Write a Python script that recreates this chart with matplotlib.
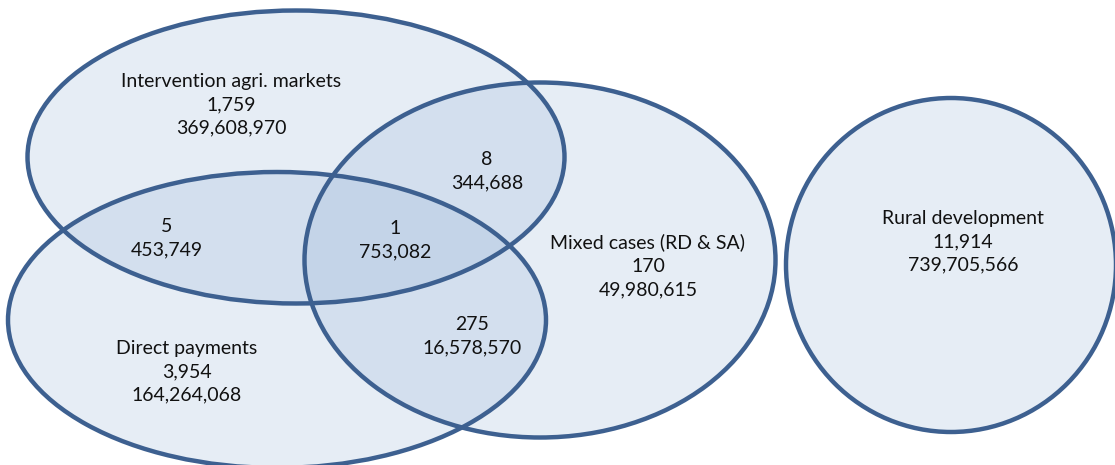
import matplotlib.pyplot as plt
from matplotlib.patches import Ellipse

# Venn regions: label, number of cases, amount
region_labels = ["Intervention agri. markets", "", "", "", "Mixed cases (RD & SA)",
                 "", "Direct payments", "Rural development"]
region_counts = [1759, 8, 5, 1, 170, 275, 3954, 11914]
region_amounts = [369608970, 344688, 453749, 753082, 49980615, 16578570,
                  164264068, 739705566]

# layout (pixel coords of the 1115x465 canvas)
text_pos = [(231, 105), (487, 171), (167, 238), (395, 240), (648, 266),
            (472, 336), (187, 372), (963, 242)]

# ellipses: centre x, centre y, width, height
ellipses = [(296, 157, 537, 293),   # intervention
            (277, 320, 538, 296),   # direct payments
            (540, 260, 471, 355),   # mixed
            (951, 265, 330, 334)]   # rural development

fill_col = "#97b4d9"
edge_col = "#3d6090"

fig = plt.figure(figsize=(11.15, 4.65), dpi=100)
ax = fig.add_axes([0, 0, 1, 1])
ax.set_xlim(0, 1115)
ax.set_ylim(465, 0)
ax.axis("off")

for cx, cy, w, h in ellipses:
    ax.add_patch(Ellipse((cx, cy), w, h, facecolor=fill_col, alpha=0.24,
                         edgecolor="none"))
for cx, cy, w, h in ellipses:
    ax.add_patch(Ellipse((cx, cy), w, h, facecolor="none",
                         edgecolor=edge_col, linewidth=3.2))

for lab, n, amt, (x, y) in zip(region_labels, region_counts, region_amounts,
                               text_pos):
    lines = ([lab] if lab else []) + [f"{n:,}", f"{amt:,}"]
    ax.text(x, y, "\n".join(lines), ha="center", va="center",
            fontsize=14, family="Lato", linespacing=1.45, color="#111111")

fig.savefig("out.png", dpi=100)
